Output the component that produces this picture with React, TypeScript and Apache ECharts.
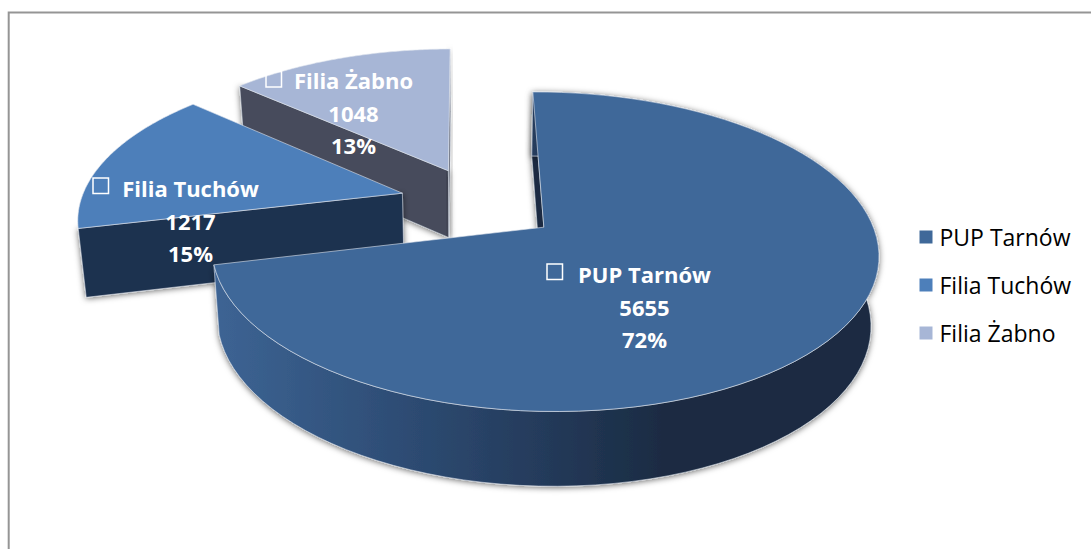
import React, { useEffect, useRef } from "react";
import * as echarts from "echarts";

const categories = ["PUP Tarnów", "Filia Tuchów", "Filia Żabno"];
const values = [5655, 1217, 1048];
const percentLabels = ["72%", "15%", "13%"];

const topColors = ["#3f6899", "#4d7fba", "#a7b6d6"];
const faceColors = ["#1a2c42", "#1f3350", "#464c5c"];
const labelCentres = [
  [644.5, 274],
  [190.5, 188],
  [353.5, 80],
];
const keyOffsets = [
  [97.5, 10],
  [97.5, 10],
  [87.5, 8.5],
];
const sliceNudges = [
  [-1, -0.5],
  [-2.5, -2.5],
  [-1, -1.5],
];

// Perspective model of the pie plane (fitted by eye to the picture).
const XC = 481;
const YC = 204.6;
const B = 322;
const A = 149;
const K = 0.15;
const EXPLODE = 0.246;
const SHRINK = 0.98;
const DEPTH = 68;
const START = -0.5;

const project = (U: number, V: number) => {
  const w = 1 + K * V;
  return { x: XC + (B * U) / w, y: YC - (A * V) / w, w };
};
const rad = (d: number) => (d * Math.PI) / 180;

const total = values.reduce((a, b) => a + b, 0);
const ranges = values.map((s, i) => {
  const before = values.slice(0, i).reduce((a, b) => a + b, 0);
  return [START + (before / total) * 360, START + ((before + s) / total) * 360];
});

const renderSlice = (index: number) => (_p: any, _api: any) => {
  const [nx, ny] = sliceNudges[index];
  const lower = (U: number, V: number) => {
    const p = project(U, V);
    return [XC + (p.x - XC) * SHRINK + nx, p.y + DEPTH / Math.pow(p.w, 0.5) + ny];
  };
  const upper = (U: number, V: number) => {
    const p = project(U, V);
    return [p.x + nx, p.y + ny];
  };
  const [a0, a1] = ranges[index];
  const mid = rad((a0 + a1) / 2);
  const oU = Math.sin(mid) * EXPLODE;
  const oV = Math.cos(mid) * EXPLODE;
  const arc: [number, number][] = [];
  const steps = 90;
  for (let s = 0; s <= steps; s++) {
    const t = rad(a0 + ((a1 - a0) * s) / steps);
    arc.push([oU + Math.sin(t), oV + Math.cos(t)]);
  }
  const topFace = [upper(oU, oV), ...arc.map(([u, v]) => upper(u, v))];
  const wallFill = {
    type: "linear",
    x: 0,
    y: 0,
    x2: 1,
    y2: 0,
    colorStops: [
      { offset: 0, color: "#3d6494" },
      { offset: 0.25, color: "#2f4f78" },
      { offset: 0.5, color: "#243a5a" },
      { offset: 0.68, color: "#1a2b42" },
      { offset: 1, color: "#1a2b42" },
    ],
  };
  const shadow = {
    shadowBlur: 6,
    shadowColor: "rgba(0,0,0,0.6)",
    shadowOffsetX: 0,
    shadowOffsetY: 1,
  };
  const faces: any[] = [];
  // radial faces that look towards the viewer
  const radial = (pt: number[], fill: any) => ({
    type: "polygon",
    shape: {
      points: [upper(oU, oV), upper(pt[0], pt[1]), lower(pt[0], pt[1]), lower(oU, oV)],
    },
    style: { fill, stroke: "rgba(225,230,238,0.7)", lineWidth: 0.8, ...shadow },
  });
  if (index === 0) faces.push(radial(arc[0], faceColors[0]));
  if (index === 1) faces.push(radial(arc[0], faceColors[1]));
  if (index === 2) faces.push(radial(arc[0], faceColors[2]), radial(arc[steps], faceColors[2]));
  if (index === 0) {
    const wall = [
      ...arc.map(([u, v]) => upper(u, v)),
      ...arc
        .slice()
        .reverse()
        .map(([u, v]) => lower(u, v)),
    ];
    faces.push({
      type: "polygon",
      shape: { points: wall },
      style: { fill: wallFill, stroke: "rgba(225,230,238,0.7)", lineWidth: 0.8, ...shadow },
    });
  }
  const [cx, cy] = labelCentres[index];
  const font = "bold 22px 'Open Sans'";
  const lines = [categories[index], String(values[index]), percentLabels[index]];
  const texts = lines.map((text, i) => ({
    type: "text",
    style: {
      text,
      x: cx,
      y: cy + i * 32.5,
      fill: "#ffffff",
      font,
      align: "center",
      verticalAlign: "middle",
    },
  }));
  return {
    type: "group",
    children: [
      ...faces,
      {
        type: "polygon",
        shape: { points: topFace },
        style: {
          fill: topColors[index],
          stroke: "rgba(225,230,238,0.75)",
          lineWidth: 0.8,
        },
      },
      {
        type: "rect",
        shape: {
          x: cx - keyOffsets[index][0],
          y: cy - keyOffsets[index][1],
          width: 15.5,
          height: 15.5,
        },
        style: { fill: "none", stroke: "#ffffff", lineWidth: 1.5 },
      },
      ...texts,
    ],
  };
};

export default function App() {
  const ref = useRef<HTMLDivElement>(null);
  useEffect(() => {
    document.body.style.margin = "0";
    const chart = echarts.init(ref.current!, null, { renderer: "svg" });
    chart.setOption({
      animation: false,
      backgroundColor: "#ffffff",
      legend: {
        orient: "vertical",
        left: 919.5,
        top: 223,
        padding: 0,
        icon: "rect",
        itemWidth: 13,
        itemHeight: 13,
        itemGap: 20,
        data: categories,
        selectedMode: false,
        textStyle: {
          fontFamily: "Open Sans",
          fontSize: 23,
          color: "#000000",
          padding: [0, 0, 0, 2],
          lineHeight: 28,
        },
      },
      graphic: [
        {
          type: "polyline",
          shape: {
            points: [
              [8.7, 549],
              [8.7, 12.5],
              [1091, 12.5],
            ],
          },
          style: { fill: "none", stroke: "#959595", lineWidth: 2 },
        },
      ],
      series: categories.map((name, i) => ({
        type: "custom",
        name,
        z: 5 - i,
        coordinateSystem: "none",
        itemStyle: { color: topColors[i] },
        data: [values[i]],
        renderItem: renderSlice(i),
      })),
    });
    return () => chart.dispose();
  }, []);
  return (
    <div
      ref={ref}
      style={{ position: "absolute", left: 0, top: 0, width: 1091, height: 549 }}
    />
  );
}
